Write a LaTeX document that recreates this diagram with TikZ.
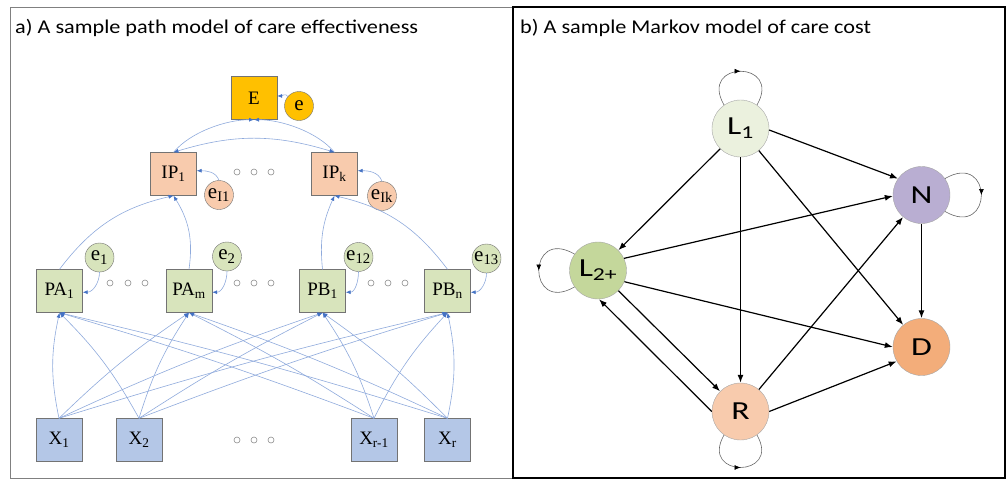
\documentclass[tikz,border=0pt]{standalone}
\usepackage{fontspec}
\setmainfont{Liberation Serif}
\newfontfamily\calibri[FakeStretch=1.14]{Carlito}
\newfontfamily\calibriwide[FakeStretch=1.3]{Carlito}
\usetikzlibrary{positioning}
\usetikzlibrary{arrows.meta,shapes}
\usetikzlibrary{decorations.markings}
\usetikzlibrary{calc}
\definecolor{gold}{HTML}{FFC000}
\definecolor{peach}{HTML}{F8CBAD}
\definecolor{palegreen}{HTML}{D8E4BC}
\definecolor{paleblue}{HTML}{B4C7E7}
\definecolor{pathblue}{HTML}{8FAADC}
\definecolor{tipblue}{HTML}{4472C4}
\definecolor{lonegreen}{HTML}{EBF1DE}
\definecolor{ltwogreen}{HTML}{C4D79B}
\definecolor{lavender}{HTML}{B9AED2}
\definecolor{deadorange}{HTML}{F3AD7A}
\definecolor{recpeach}{HTML}{F8CBAD}
\tikzstyle{box}=[rectangle,draw=black!55,minimum width=46pt,minimum height=43pt,inner sep=0pt,font=\fontsize{19}{19}\selectfont]
\tikzstyle{errnode}=[circle,draw=black!55,minimum size=29pt,inner sep=0pt,font=\fontsize{21}{21}\selectfont]
\tikzstyle{patharrow}=[draw=pathblue,line width=0.6pt,-{Latex[length=5pt,width=4pt,color=tipblue]}]
\tikzstyle{covarrow}=[draw=pathblue,line width=0.6pt,{Latex[length=5pt,width=4pt,color=tipblue]}-{Latex[length=5pt,width=4pt,color=tipblue]}]
\tikzstyle{dot}=[draw=black!45,line width=0.6pt]
\tikzstyle{mstate}=[circle,draw=black!35,minimum size=57pt,inner sep=0pt,font=\calibriwide\fontsize{26}{26}\selectfont]
\tikzstyle{transition}=[draw,line width=1.2pt,-{Latex[length=8pt,width=6pt]}]
\tikzstyle{selfloop}=[draw=black!60,line width=0.6pt,postaction={decorate},decoration={markings,mark=at position 0.5 with {\arrow{Latex[length=6pt,width=5pt,color=black]}}}]
\tikzstyle{paneltitle}=[anchor=base west,inner sep=0pt,font=\calibri\fontsize{19.5}{21}\selectfont]

\begin{document}
\begin{tikzpicture}[x=1pt,y=1pt]
\useasboundingbox (0,0) rectangle (1007,-482);

    % panel frames and titles
    \draw[black!50,line width=1pt] (10,-7) rectangle (512,-478);
    \draw[black,line width=1.2pt] (513,-7) rectangle (1005,-478);
    \draw[black,line width=2pt] (513,-7) -- (513,-478);
    \node[paneltitle] (titleA) at (15,-33) {a) A sample path model of care effectiveness};
    \node[paneltitle] (titleB) at (520,-33) {b) A sample Markov model of care cost};

    % a) path model: first we draw the boxes
    \node[box,fill=gold] (E) at (254,-98) {E};
    \foreach \pos/\name/\label in {{(173.5,-174)/IP1/IP\textsubscript{1}}, {(334.5,-174)/IPk/IP\textsubscript{k}}}
        \node[box,fill=peach] (\name) at \pos {\label};
    \foreach \pos/\name/\label in {{(59.5,-291)/PA1/PA\textsubscript{1}}, {(189,-291)/PAm/PA\textsubscript{m}}, {(322.5,-291)/PB1/PB\textsubscript{1}}, {(447.5,-291)/PBn/PB\textsubscript{n}}}
        \node[box,fill=palegreen] (\name) at \pos {\label};
    \foreach \pos/\name/\label in {{(59,-440)/X1/X\textsubscript{1}}, {(139,-440)/X2/X\textsubscript{2}}, {(374,-440)/Xr1/X\textsubscript{r-1}}, {(447.5,-440)/Xr/X\textsubscript{r}}}
        \node[box,fill=paleblue] (\name) at \pos {\label};

    % then the error terms
    \node[errnode,fill=gold] (e) at (299,-106) {e};
    \foreach \pos/\name/\label in {{(219,-195)/eI1/e\textsubscript{I1}}, {(382,-196)/eIk/e\textsubscript{Ik}}}
        \node[errnode,fill=peach] (\name) at \pos {\label};
    \foreach \pos/\name/\label in {{(99.5,-257.5)/e1/e\textsubscript{1}}, {(227,-256.5)/e2/e\textsubscript{2}}, {(358.5,-257)/e12/e\textsubscript{12}}, {(486.5,-258.5)/e13/e\textsubscript{13}}}
        \node[errnode,fill=palegreen] (\name) at \pos {\label};

    % ellipsis dots
    \foreach \x in {237,254,271} {
        \draw[dot] (\x,-172) circle[radius=3pt];
        \draw[dot] (\x,-440) circle[radius=3pt];
    }
    \foreach \x in {110,128,145,237,254,271,371,388,405}
        \draw[dot] (\x,-283) circle[radius=3pt];

    % error arrows
    \path[patharrow] (e.140) to[out=110,in=0] (E.5);
    \foreach \source/\dest in {eI1/IP1, eIk/IPk}
        \path[patharrow] (\source.north) to[out=110,in=0] (\dest.8);
    \foreach \source/\dest in {e1/PA1, e2/PAm, e12/PB1, e13/PBn}
        \path[patharrow] (\source.south) to[out=-90,in=0] (\dest.-3);

    % paths up to E
    \path[patharrow] (IP1.north) to[out=50,in=180,looseness=0.8] (E.south);
    \path[patharrow] (IPk.north) to[out=130,in=0,looseness=0.8] (E.south);
    \path[covarrow] (IP1.north) to[bend left=17] (IPk.north);
    \path[patharrow] (PA1.north) to[bend left=20] (IP1.south);
    \path[patharrow] (PAm.north) to[bend right=20] (IP1.south);
    \path[patharrow] (PB1.north) to[bend left=15] (IPk.south);
    \path[patharrow] (PBn.north) to[bend right=20] (IPk.south);

    % covariates to every block
    \foreach \source/\dest/\b in {X1/PA1/12, X1/PAm/5, X1/PB1/3, X1/PBn/2, X2/PA1/-8, X2/PAm/8, X2/PB1/3, X2/PBn/2, Xr1/PA1/-2, Xr1/PAm/-3, Xr1/PB1/-8, Xr1/PBn/8, Xr/PA1/-2, Xr/PAm/-3, Xr/PB1/-5, Xr/PBn/-12}
        \path[patharrow] (\source.north) to[bend left=\b] (\dest.south);

    % b) Markov model: the states
    \foreach \pos/\name/\label/\col in {{(740.5,-128.5)/L1/L\textsubscript{1}/lonegreen}, {(598,-270.5)/L2/L\textsubscript{2+}/ltwogreen}, {(921.5,-195)/N/N/lavender}, {(921.5,-347)/D/D/deadorange}, {(740.5,-411.5)/R/R/recpeach}}
        \node[mstate,fill=\col] (\name) at \pos {\label};

    % transitions
    \foreach \source/\dest in {L1/L2, L1/R, L1/D, N/D, L2/R, R/N}
        \path[transition] (\source) -- (\dest);
    \path[transition] (L1.-3) -- (N.145);
    \path[transition] (L2.25) -- (N.182);
    \path[transition] (L2.-23) -- (D.180);
    \path[transition] (R.west) -- (L2.-88);
    \path[transition] (R.east) -- (D.-150);

    % staying in the same state
    \path[selfloop] (L1.125) .. controls +(120:52) and +(60:52) .. (L1.55);
    \path[selfloop] (N.35) .. controls +(30:56) and +(-30:56) .. (N.-35);
    \path[selfloop] (L2.145) .. controls +(150:55) and +(210:55) .. (L2.215);
    \path[selfloop] (R.235) .. controls +(240:50) and +(300:50) .. (R.305);

\end{tikzpicture}
\end{document}
